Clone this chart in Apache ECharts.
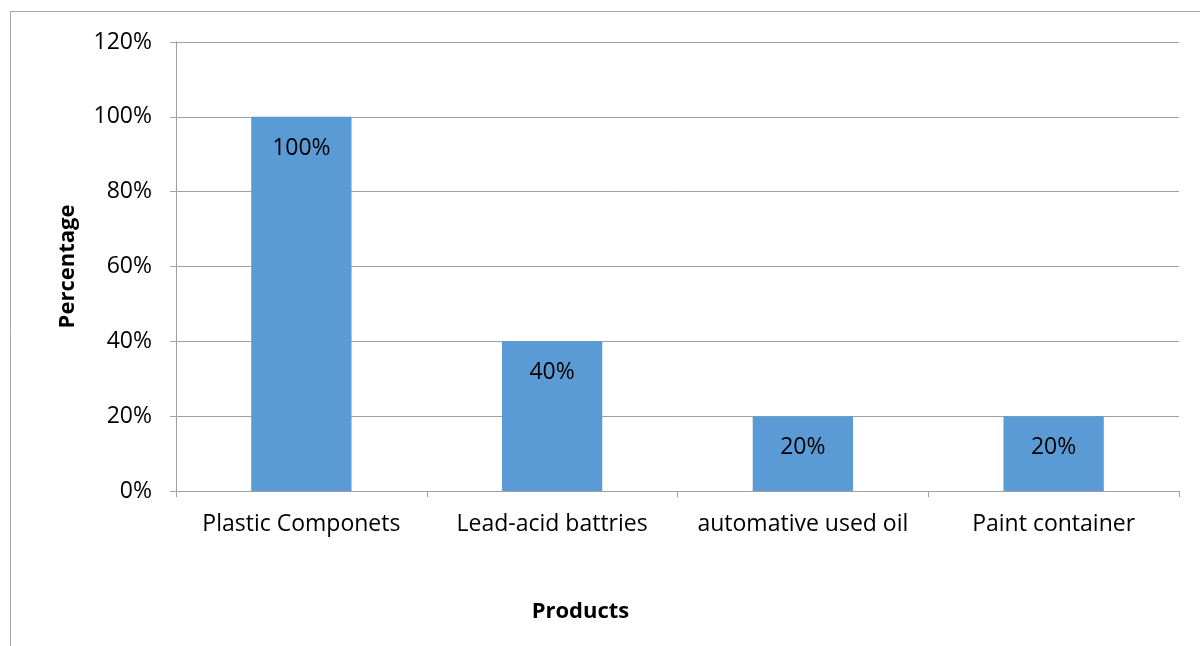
<!DOCTYPE html>
<html><head><meta charset="utf-8">
<script src="https://cdn.jsdelivr.net/npm/echarts@6/dist/echarts.min.js"></script>
<style>html,body{margin:0;padding:0;background:#fff}#c{width:1200px;height:646px}</style>
</head><body><div id="c"></div>
<script>
const categories = ['Plastic Componets', 'Lead-acid battries', 'automative used oil', 'Paint container'];
const values = [100, 40, 20, 20];
const yTicks = {min: 0, max: 120, interval: 20};
const FONT = '"Open Sans", Lato, sans-serif';
const chart = echarts.init(document.getElementById('c'));
chart.setOption({
  animation: false,
  grid: {left: 176, right: 21, top: 42, bottom: 155},
  graphic: [{type: 'rect', shape: {x: 10.5, y: 11.5, width: 1300, height: 700}, style: {fill: 'none', stroke: '#a6a6a6', lineWidth: 1}, silent: true, z: -1}],
  xAxis: {
    type: 'category', data: categories,
    name: 'Products', nameLocation: 'middle', nameGap: 110,
    nameTextStyle: {fontFamily: FONT, fontWeight: 'bold', fontSize: 22, color: '#000', padding: [0, 194, 0, 0]},
    axisLine: {lineStyle: {color: '#a0a0a0'}},
    axisTick: {show: true, interval: 0, length: 6, alignWithLabel: false, lineStyle: {color: '#a0a0a0'}},
    axisLabel: {interval: 0, hideOverlap: false, margin: 22, fontFamily: FONT, fontSize: 23, color: '#000'}
  },
  yAxis: {
    type: 'value', min: yTicks.min, max: yTicks.max, interval: yTicks.interval,
    name: 'Percentage', nameLocation: 'middle', nameGap: 97, nameRotate: 90,
    nameTextStyle: {fontFamily: FONT, fontWeight: 'bold', fontSize: 22, color: '#000'},
    axisLine: {show: true, lineStyle: {color: '#a0a0a0'}},
    axisTick: {show: true, length: 6, lineStyle: {color: '#a0a0a0'}},
    splitLine: {lineStyle: {color: '#a0a0a0'}},
    axisLabel: {margin: 24, fontFamily: FONT, fontSize: 23, color: '#000', formatter: v => v + '%'}
  },
  series: [{
    type: 'bar', data: values, barWidth: '40%',
    itemStyle: {color: '#5B9BD5'},
    label: {show: true, position: 'insideTop', distance: 20, fontFamily: FONT, fontSize: 23, color: '#000', formatter: p => p.value + '%'}
  }]
});
</script></body></html>
